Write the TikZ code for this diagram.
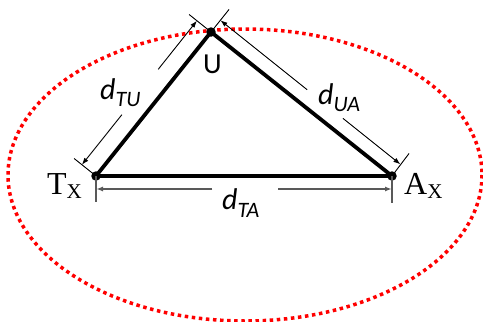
\documentclass[tikz,border=0pt]{standalone}
\usepackage{fontspec}
\setmainfont{Liberation Serif}
\newfontfamily\sansf{Carlito}
\usetikzlibrary{arrows.meta}
\begin{document}
\begin{tikzpicture}[x=1pt,y=-1pt,
  dimarrow/.style={-{Latex[length=7pt,width=5pt]}, line width=0.9pt},
  extline/.style={line width=0.9pt},
  graydim/.style={-{Latex[length=7pt,width=5pt]}, line width=1.6pt, draw=black!65, fill=black!80},
  grayext/.style={line width=1.4pt, draw=black!65},
  side/.style={line width=3.8pt, line join=round},
  vdot/.style={circle, fill=black, inner sep=0pt, minimum size=9.5pt},
  dlab/.style={font=\sansf\fontsize{30}{30}\selectfont\itshape, inner sep=0pt, anchor=base west},
  ptlab/.style={font=\fontsize{32}{32}\selectfont, inner sep=0pt, anchor=base west}]
\useasboundingbox (0,0) rectangle (483,322);
% ellipse
\draw[red, line width=3.5pt, dash pattern=on 3.5pt off 3.6pt] (245,175) ellipse [x radius=237, y radius=146];
% vertices
\coordinate (T) at (96,176);
\coordinate (U) at (211,32);
\coordinate (A) at (392,176);
% triangle
\draw[side] (T) -- (U) -- (A) -- cycle;
\node[vdot] (dT) at (T) {};
\node[vdot] (dU) at (U) {};
\node[vdot] (dA) at (A) {};
% TU dimension
\coordinate (tuE1) at (74.1,158.5);
\coordinate (tuE2) at (189.1,14.5);
\coordinate (tu1) at (81.9,164.75);
\coordinate (tu2) at (196.9,20.75);
\coordinate (tuG1) at (121.9,114.7);
\coordinate (tuG2) at (158.2,69.35);
\draw[extline] (dT.center) -- (tuE1);
\draw[extline] (dU.center) -- (tuE2);
\draw[dimarrow] (tuG1) -- (tu1);
\draw[dimarrow] (tuG2) -- (tu2);
% UA dimension
\coordinate (uaE1) at (229.1,9.4);
\coordinate (uaE2) at (409.1,153.4);
\coordinate (ua1) at (220.4,20.3);
\coordinate (ua2) at (400.4,164.3);
\coordinate (uaG1) at (307.1,89.7);
\coordinate (uaG2) at (343.0,118.4);
\draw[extline] (dU.center) -- (uaE1);
\draw[extline] (dA.center) -- (uaE2);
\draw[dimarrow] (uaG1) -- (ua1);
\draw[dimarrow] (uaG2) -- (ua2);
% TA dimension
\coordinate (taE1) at (96,202);
\coordinate (taE2) at (392,203);
\coordinate (ta1) at (96,189);
\coordinate (ta2) at (392,189);
\coordinate (taG1) at (212,189);
\coordinate (taG2) at (278,189);
\draw[grayext] (dT.center) -- (taE1);
\draw[grayext] (dA.center) -- (taE2);
\draw[graydim] (taG1) -- (ta1);
\draw[graydim] (taG2) -- (ta2);
% labels
\node[font=\sansf\fontsize{29}{29}\selectfont, inner sep=0pt, anchor=base] (lU) at (212.5,73) {U};
\node[ptlab] (lT) at (47,194) {T\raisebox{-4pt}{\fontsize{21}{21}\selectfont X}};
\node[ptlab] (lA) at (404,194) {A\raisebox{-4pt}{\fontsize{21}{21}\selectfont X}};
\node[dlab] (lTU) at (100,99) {d\raisebox{-7pt}{\fontsize{22}{22}\selectfont TU}};
\node[dlab] (lUA) at (318,104) {d\raisebox{-7pt}{\fontsize{22}{22}\selectfont UA}};
\node[dlab] (lTA) at (222,209) {d\raisebox{-8pt}{\fontsize{22}{22}\selectfont TA}};
\end{tikzpicture}
\end{document}
